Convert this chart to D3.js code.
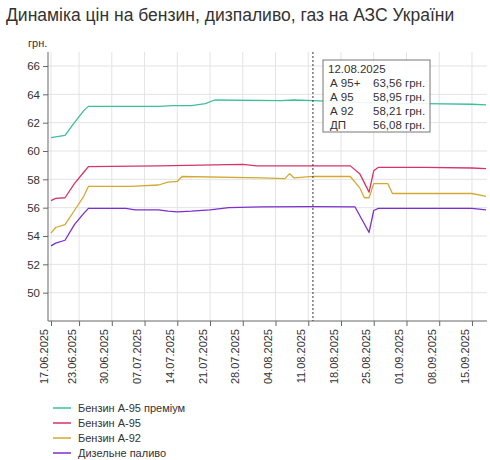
<!DOCTYPE html><html><head><meta charset="utf-8"><script src="https://cdn.jsdelivr.net/npm/d3@7"></script>
<style>body{margin:0;background:#fff;font-family:Arial,"Liberation Sans",sans-serif}</style></head><body><svg id="c" width="490" height="460"></svg>
<script>
const seriesNames=["Бензин А-95 преміум","Бензин А-95","Бензин А-92","Дизельне паливо"];
const colors=["#3dbf9c","#d6336c","#d4a933","#7b2fd0"];
const xTickLabels=["17.06","23.06","30.06","07.07","14.07","21.07","28.07","04.08","11.08","18.08","25.08","01.09","08.09","15.09"];
const a95pDates=["17.06","19.06","20.06","22.06","24.06","25.06","10.07","13.07","17.07","20.07","22.07","05.08","08.08","12.08","20.08","25.08","05.09","15.09","18.09"];
const a95pVals=[60.95,61.05,61.1,62.0,62.85,63.15,63.15,63.2,63.2,63.35,63.6,63.55,63.6,63.56,63.45,63.4,63.35,63.3,63.25];
const a95Dates=["17.06","18.06","20.06","22.06","24.06","25.06","10.07","28.07","31.07","04.08","12.08","20.08","22.08","24.08","25.08","26.08","05.09","15.09","18.09"];
const a95Vals=[56.5,56.65,56.7,57.7,58.5,58.9,58.95,59.05,58.95,58.95,58.95,58.95,58.4,57.1,58.6,58.85,58.85,58.8,58.75];
const a92Dates=["17.06","18.06","20.06","22.06","24.06","25.06","04.07","10.07","12.07","14.07","15.07","01.08","06.08","07.08","08.08","12.08","20.08","22.08","23.08","24.08","25.08","28.08","29.08","15.09","18.09"];
const a92Vals=[54.2,54.6,54.8,55.8,56.8,57.5,57.5,57.6,57.8,57.85,58.2,58.1,58.05,58.4,58.1,58.21,58.2,57.4,56.7,56.7,57.7,57.7,57.0,57.0,56.8];
const dpDates=["17.06","18.06","20.06","22.06","24.06","25.06","03.07","05.07","10.07","12.07","14.07","17.07","21.07","25.07","01.08","12.08","21.08","24.08","25.08","26.08","15.09","18.09"];
const dpVals=[53.3,53.5,53.7,54.8,55.6,55.95,55.95,55.85,55.85,55.75,55.7,55.75,55.85,56.0,56.05,56.08,56.05,54.25,55.8,55.95,55.95,55.85];
const yTicks=[50,52,54,56,58,60,62,64,66];
const tipRows=[["А 95+","63,56 грн."],["А 95","58,95 грн."],["А 92","58,21 грн."],["ДП","56,08 грн."]];
const pd=s=>{const [d,m]=s.split(".");return new Date(2025,+m-1,+d);};
const svg=d3.select("#c");
const x=d3.scaleTime().domain([pd("17.06"),pd("18.09")]).range([51,486]);
const y=d3.scaleLinear().domain([48,66]).range([321,66]);
svg.append("text").attr("x",6).attr("y",21).attr("font-size",17.5).attr("fill","#333").text("Динаміка цін на бензин, дизпаливо, газ на АЗС України");
svg.append("text").attr("x",28).attr("y",47).attr("font-size",11).attr("fill","#333").text("грн.");
const xTicks=xTickLabels.map(pd);
const g=svg.append("g");
g.selectAll(".gy").data(yTicks).join("line").attr("x1",48).attr("x2",487).attr("y1",d=>y(d)).attr("y2",d=>y(d)).attr("stroke","#e3e3e3");
g.selectAll(".gx").data(xTicks).join("line").attr("x1",d=>x(d)).attr("x2",d=>x(d)).attr("y1",52).attr("y2",321).attr("stroke","#e3e3e3");
const ya=svg.append("g").attr("transform","translate(48,0)").call(d3.axisLeft(y).tickValues(yTicks).tickSize(5).tickSizeOuter(0));
ya.select(".domain").attr("d","M0,52V321").attr("stroke","#666");
ya.selectAll("text").attr("font-size",11.5).attr("fill","#333");ya.selectAll("line").attr("stroke","#666");
const xa=svg.append("g").attr("transform","translate(0,321)").call(d3.axisBottom(x).tickValues(xTicks).tickFormat(d3.timeFormat("%d.%m.%Y")).tickSize(5).tickSizeOuter(0));
xa.select(".domain").attr("d","M48,0H487").attr("stroke","#666");xa.selectAll("line").attr("stroke","#666");
xa.selectAll("text").attr("font-size",11).attr("fill","#333").attr("transform","rotate(-90)").attr("text-anchor","end").attr("dx","-8").attr("dy","-0.35em").attr("y",0).attr("x",0);
const all=[[a95pDates,a95pVals],[a95Dates,a95Vals],[a92Dates,a92Vals],[dpDates,dpVals]];
const line=d3.line().x(d=>x(d[0])).y(d=>y(d[1]));
all.forEach(([ds,vs],i)=>svg.append("path").attr("d",line(ds.map((d,j)=>[pd(d),vs[j]]))).attr("fill","none").attr("stroke",colors[i]).attr("stroke-width",1.3).attr("stroke-linejoin","round"));
const tx=x(pd("12.08"));
svg.append("line").attr("x1",tx).attr("x2",tx).attr("y1",52).attr("y2",321).attr("stroke","#333").attr("stroke-dasharray","2,2");
const tg=svg.append("g").attr("transform","translate(323,60)");
tg.append("rect").attr("width",107).attr("height",72).attr("fill","#fff").attr("fill-opacity",0.9).attr("stroke","#777");
tg.append("text").attr("x",5).attr("y",13).attr("font-size",11.5).attr("fill","#333").text("12.08.2025");
tipRows.forEach((r,i)=>{tg.append("text").attr("x",7).attr("y",27+i*14).attr("font-size",11.5).attr("fill","#333").text(r[0]);
tg.append("text").attr("x",50).attr("y",27+i*14).attr("font-size",11.5).attr("fill","#333").text(r[1]);});
seriesNames.forEach((n,i)=>{const yy=408+i*15;
svg.append("line").attr("x1",53).attr("x2",71).attr("y1",yy).attr("y2",yy).attr("stroke",colors[i]).attr("stroke-width",1.5);
svg.append("text").attr("x",78).attr("y",yy+4).attr("font-size",11).attr("fill","#333").text(n);});
</script></body></html>
